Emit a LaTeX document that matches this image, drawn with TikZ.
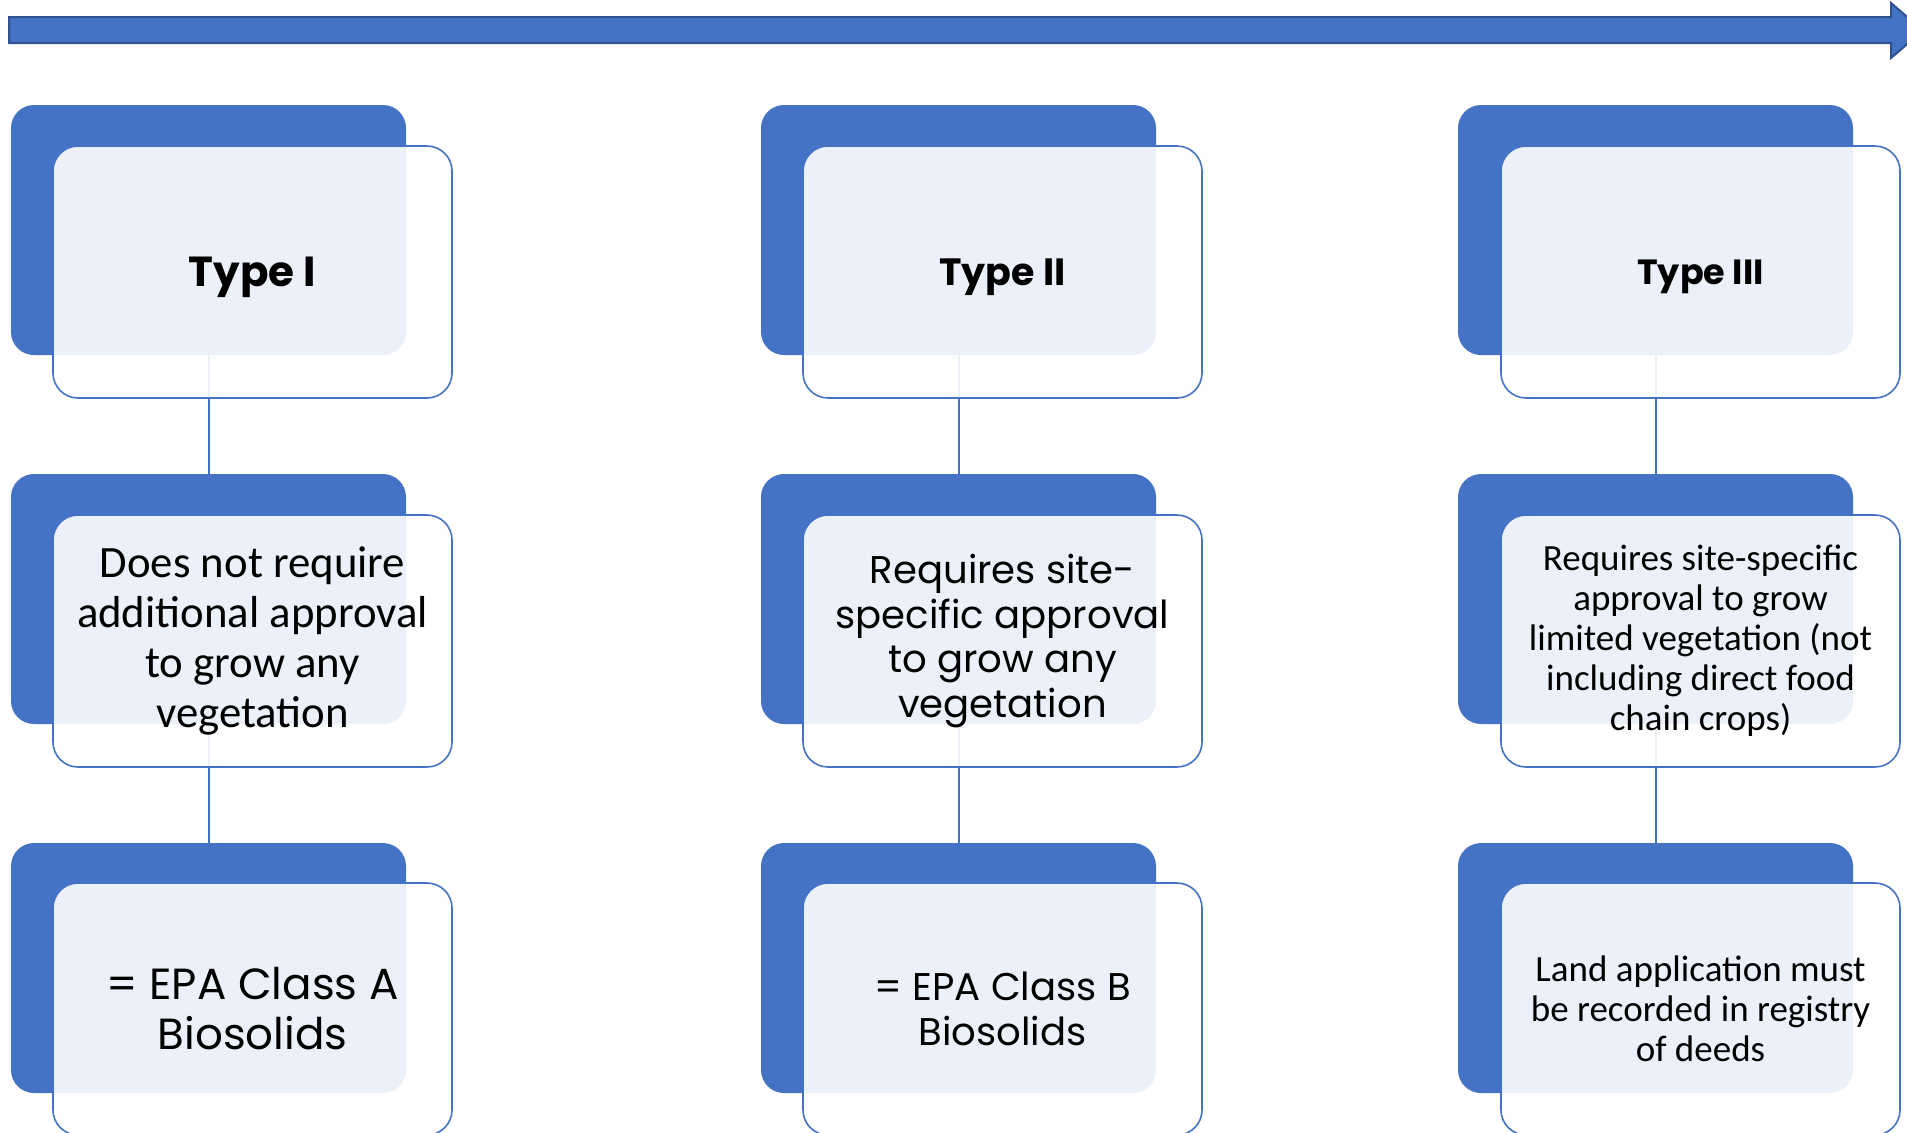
\documentclass[tikz,border=0pt]{standalone}
\usepackage{fontspec}
\setmainfont{Carlito}
\newfontfamily\gothic{Poppins}
\definecolor{accent}{HTML}{4472C4}
\definecolor{accentdark}{HTML}{2F528F}
\begin{document}
\begin{tikzpicture}[x=0.5pt,y=-0.5pt,
  backbox/.style={fill=accent, draw=none, rounded corners=11.5pt, minimum width=197.5pt, minimum height=125pt, inner sep=0pt},
  frontbox/.style={fill=white, fill opacity=0.9, text opacity=1, draw=accent, line width=0.8pt, rounded corners=12.5pt, minimum width=199.5pt, minimum height=126pt, align=center, inner sep=0pt},
  link/.style={draw=accent, line width=1pt},
  gothicA/.style={font=\gothic\fontsize{21.8pt}{25pt}\selectfont},
  gothicB/.style={font=\gothic\fontsize{19.3pt}{22.2pt}\selectfont},
  calA/.style={font=\fontsize{22.4pt}{25pt}\selectfont},
  calB/.style={font=\fontsize{18.5pt}{20pt}\selectfont}]
\useasboundingbox (0,0) rectangle (1907,1132);
\clip (0,0) rectangle (1907,1132);
% timeline arrow
\fill[accent, draw=accentdark, line width=1pt] (9,17) -- (1891,17) -- (1891,3) -- (1923,30.5) -- (1891,58) -- (1891,43) -- (9,43) -- cycle;
% back boxes
\node[backbox] (b11) at (208.5,230) {};
\node[backbox] (b21) at (208.5,599) {};
\node[backbox] (b31) at (208.5,968) {};
\node[backbox] (b12) at (958.5,230) {};
\node[backbox] (b22) at (958.5,599) {};
\node[backbox] (b32) at (958.5,968) {};
\node[backbox] (b13) at (1655.5,230) {};
\node[backbox] (b23) at (1655.5,599) {};
\node[backbox] (b33) at (1655.5,968) {};
% connectors
\draw[link] (b11.south) -- (b21.north);
\draw[link] (b21.south) -- (b31.north);
\draw[link] (b12.south) -- (b22.north);
\draw[link] (b22.south) -- (b32.north);
\draw[link] (b13.south) -- (b23.north);
\draw[link] (b23.south) -- (b33.north);
% front boxes
\node[frontbox, font=\gothic\bfseries\fontsize{21pt}{25pt}\selectfont, text depth=0pt] (f11) at (252.5,272) {Type I};
\node[frontbox, font=\gothic\bfseries\fontsize{19pt}{23pt}\selectfont, text depth=0pt] (f12) at (1002.5,272) {Type II};
\node[frontbox, font=\gothic\bfseries\fontsize{17.5pt}{21pt}\selectfont, text depth=0pt] (f13) at (1700.5,272) {Type III};
\node[frontbox, calA] (f21) at (252.5,641) {Does not require\\additional approval\\to grow any\\vegetation};
\node[frontbox, gothicB] (f22) at (1002.5,641) {Requires site-\\specific approval\\to grow any\\vegetation};
\node[frontbox, calB] (f23) at (1700.5,641) {Requires site-specific\\approval to grow\\limited vegetation (not\\including direct food\\chain crops)};
\node[frontbox, gothicA] (f31) at (252.5,1009) {= EPA Class A\\Biosolids};
\node[frontbox, gothicB] (f32) at (1002.5,1009) {= EPA Class B\\Biosolids};
\node[frontbox, calB] (f33) at (1700.5,1009) {Land application must\\be recorded in registry\\of deeds};
\end{tikzpicture}
\end{document}
